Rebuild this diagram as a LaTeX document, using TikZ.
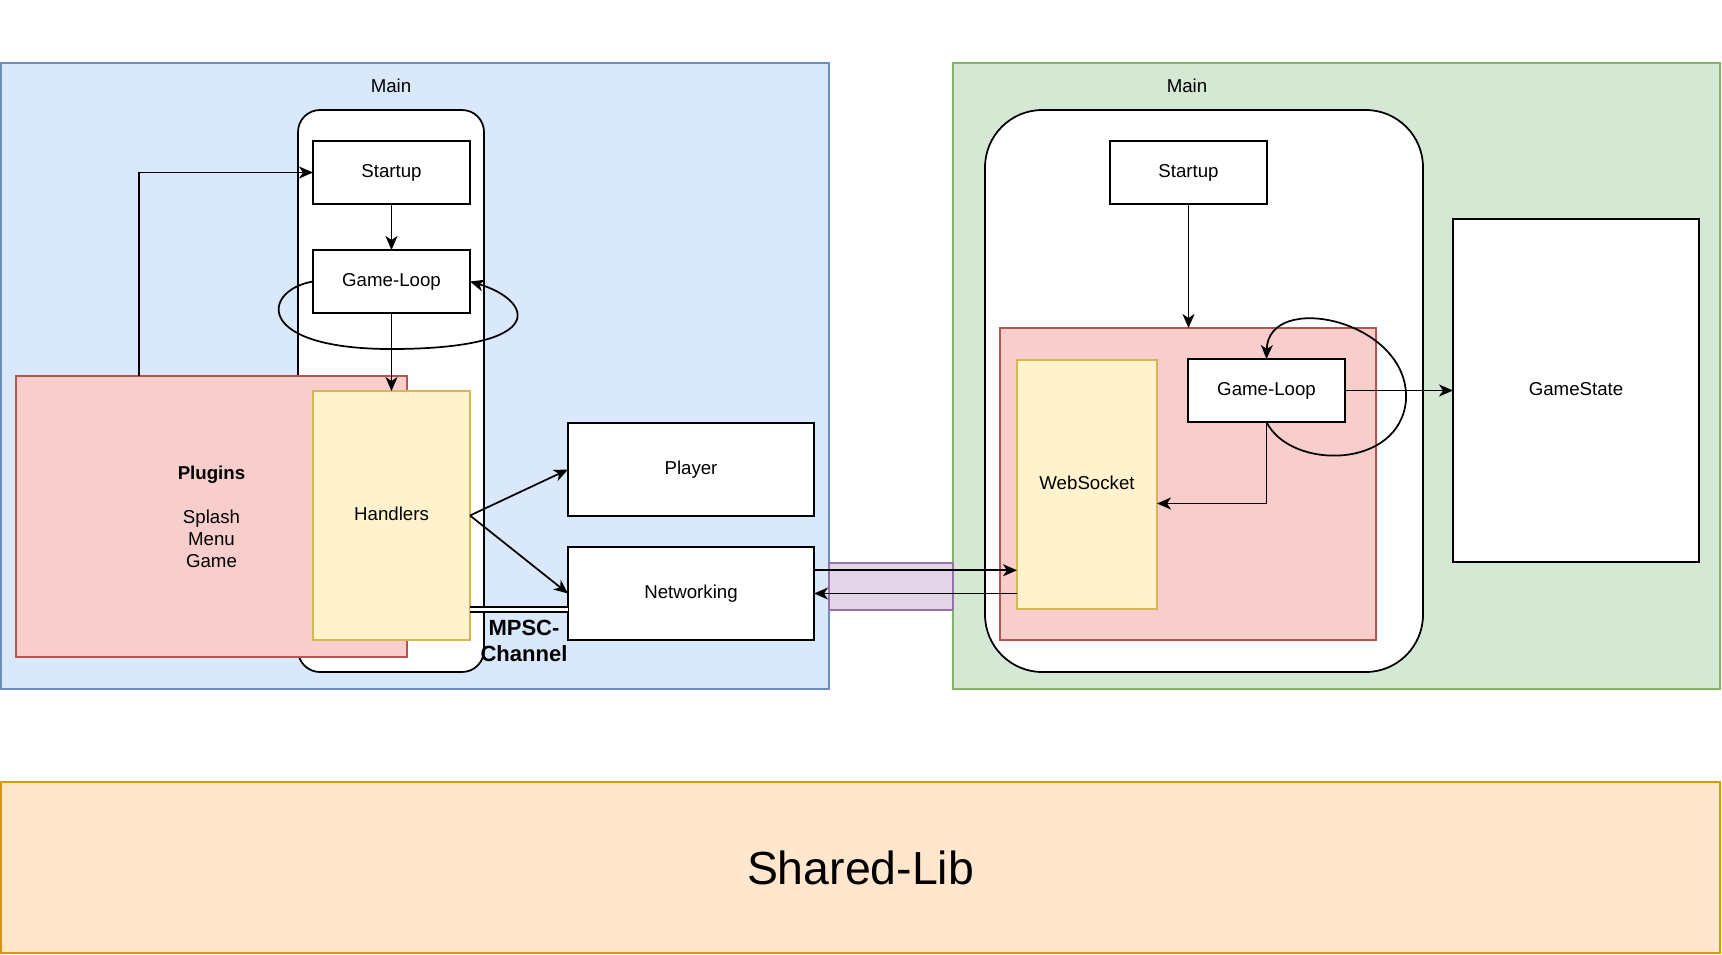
\documentclass[tikz,border=0pt]{standalone}
\usepackage{fontspec}
\setmainfont{Liberation Sans}
\usetikzlibrary{arrows.meta,calc}
\definecolor{bluef}{HTML}{DAE8FC}\definecolor{blued}{HTML}{6C8EBF}
\definecolor{greenf}{HTML}{D5E8D4}\definecolor{greend}{HTML}{82B366}
\definecolor{redf}{HTML}{F8CECC}\definecolor{redd}{HTML}{B85450}
\definecolor{yellowf}{HTML}{FFF2CC}\definecolor{yellowd}{HTML}{D6B656}
\definecolor{purplef}{HTML}{E1D5E7}\definecolor{purpled}{HTML}{9673A6}
\definecolor{orangef}{HTML}{FFE6CC}\definecolor{oranged}{HTML}{D79B00}
\tikzset{
  base/.style={inner sep=0pt, outer sep=0pt, align=center, font=\fontsize{14}{16.5}\selectfont},
  cont/.style={base, line width=1pt},
  wbox/.style={base, draw=black, fill=white, line width=1.3pt},
  redbox/.style={base, draw=redd, fill=redf, line width=1pt},
  yelbox/.style={base, draw=yellowd, fill=yellowf, line width=1pt},
  txt/.style={base},
  lbl/.style={text height=1.5ex, text depth=0ex},
  edge/.style={line width=1.3pt, draw=black},
  arr/.style={edge, -{Stealth[length=10.5pt, width=9pt, inset=3pt]}},
  sz/.style 2 args={minimum width=#1, minimum height=#2},
}
\begin{document}
\begin{tikzpicture}[x=0.75pt, y=-0.75pt]
\useasboundingbox (0,0) rectangle (1722,954);
% containers
\node[cont, fill=bluef, draw=blued, sz={621pt}{469.5pt}] (blue) at (415,376) {};
\node[cont, fill=greenf, draw=greend, sz={575.25pt}{469.5pt}] (green) at (1336.5,376) {};
\node[cont, fill=orangef, draw=oranged, sz={1289.25pt}{128.25pt}, font=\fontsize{34.8}{40}\selectfont] (shared) at (860.5,867.5) {Shared-Lib};
\node[cont, fill=purplef, draw=purpled, sz={93pt}{35.25pt}] (chan) at (891,586.5) {};
\node[txt] (mainL) at (391,86) {Main};
\node[txt] (mainR) at (1187,86) {Main};
% main processes
\node[wbox, rounded corners=16.5pt, sz={139.5pt}{421.5pt}] (lmain) at (391,391) {};
\node[wbox, rounded corners=43pt, sz={328.5pt}{421.5pt}] (rmain) at (1204,391) {};
% left side
\node[wbox, lbl, sz={117.75pt}{47.25pt}] (startupL) at (391.5,172.5) {Startup};
\node[wbox, lbl, sz={117.75pt}{47.25pt}] (gloopL) at (391.5,281.5) {Game-Loop};
\node[redbox, sz={293.25pt}{210.75pt}] (plugins) at (211.5,516.5) {\textbf{Plugins}\\[16.5pt]Splash\\Menu\\Game};
\node[yelbox, lbl, sz={117.75pt}{186.75pt}] (handlers) at (391.5,515.5) {Handlers};
\node[wbox, lbl, sz={184.5pt}{69.75pt}] (player) at (691,469.5) {Player};
\node[wbox, lbl, sz={184.5pt}{69.75pt}] (networking) at (691,593.5) {Networking};
\node[txt, font=\bfseries\fontsize{16.5}{20}\selectfont] (mpsc) at (524,641) {MPSC-\\Channel};
% right side
\node[wbox, lbl, sz={117.75pt}{47.25pt}] (startupR) at (1188.5,172.5) {Startup};
\node[redbox, sz={282pt}{234pt}] (serverloop) at (1188,484) {};
\node[yelbox, lbl, sz={105pt}{186.75pt}] (websocket) at (1087,484.5) {WebSocket};
\node[wbox, lbl, sz={117.75pt}{47.25pt}] (gloopR) at (1266.5,390.5) {Game-Loop};
\node[wbox, lbl, sz={184.5pt}{257.25pt}] (gamestate) at (1576,390.5) {GameState};
% left connectors
\draw[arr] (startupL.south) -- (gloopL.north);
\draw[arr] (gloopL.south) -- (handlers.north);
\draw[arr] ($(plugins.north west)+(123,0)$) |- (startupL.west);
\draw[arr] (gloopL.west) .. controls (262,290) and (252,350) .. (395,349)
  .. controls (552,348) and (532,300) .. (gloopL.east);
\draw[arr] (handlers.east) -- (player.west);
\draw[arr] (handlers.east) -- (networking.west);
\draw[line width=1pt, double=white, double distance=2.6pt]
  ($(handlers.south east)+(0,-30.5)$) -- ($(networking.south west)+(0,-30.5)$);
% cross connectors
\draw[arr] ($(networking.north east)!0.25!(networking.south east)$) coordinate (n2w) -- (n2w -| websocket.west);
\draw[arr] (websocket.west |- networking.east) -- (networking.east);
% right connectors
\draw[arr] (startupR.south) -- (startupR.south |- serverloop.north);
\draw[arr] (gloopR.south) .. controls (1290,470) and (1400,470) .. (1406,400)
  .. controls (1410,320) and (1268,290) .. (gloopR.north);
\draw[arr] (gloopR.south) |- ($(websocket.east)+(0,19)$);
\draw[arr] (gloopR.east) -- (gamestate.west);
\end{tikzpicture}
\end{document}
